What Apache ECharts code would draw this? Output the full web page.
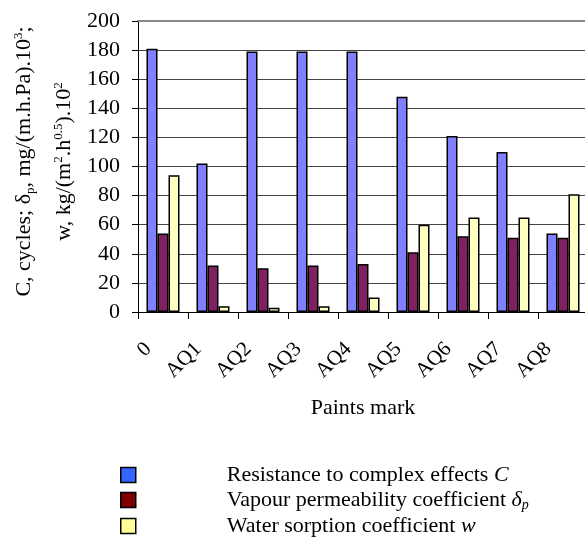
<!DOCTYPE html>
<html>
<head>
<meta charset="utf-8">
<script src="https://cdn.jsdelivr.net/npm/echarts@6/dist/echarts.min.js"></script>
<style>html,body{margin:0;padding:0;background:#fff}#c{width:585px;height:537px}</style>
</head>
<body>
<div id="c"></div>
<script>
var categories = ['0', 'AQ1', 'AQ2', 'AQ3', 'AQ4', 'AQ5', 'AQ6', 'AQ7', 'AQ8'];
var resistanceC = [181, 102, 179, 179, 179, 148, 121, 110, 54];
var vapourDelta = [54, 32, 30, 32, 33, 41, 52, 51, 51];
var sorptionW = [94, 4, 3, 4, 10, 60, 65, 65, 81];
var yTicks = [0, 20, 40, 60, 80, 100, 120, 140, 160, 180, 200];

var seriesNames = ['Resistance to complex effects C', 'Vapour permeability coefficient δp', 'Water sorption coefficient w'];
var FONT = '"Liberation Serif", "Times New Roman", serif';

var chart = echarts.init(document.getElementById('c'), null, {renderer: 'canvas'});
function bar(name, data, color) {
  return {
    name: name, type: 'bar', data: data, barWidth: 11, barGap: '0%',
    itemStyle: {color: color, borderColor: '#000', borderWidth: 1.5},
    animation: false
  };
}
chart.setOption({
  animation: false,
  textStyle: {fontFamily: FONT, color: '#000'},
  grid: {left: 138, top: 21, width: 450, height: 291, containLabel: false, outerBoundsMode: 'none'},
  xAxis: [{
    type: 'category', data: categories, position: 'bottom',
    axisLine: {lineStyle: {color: '#000', width: 1}},
    axisTick: {show: true, alignWithLabel: false, length: 7, lineStyle: {color: '#000'}},
    axisLabel: {rotate: 45, interval: 0, fontSize: 21, fontFamily: FONT, color: '#000', margin: 19, padding: [0, 21, 0, 0]},
    name: 'Paints mark', nameLocation: 'middle', nameGap: 85,
    nameTextStyle: {fontSize: 22, fontFamily: FONT, color: '#000'}
  }, {
    type: 'category', data: categories, position: 'top',
    axisLine: {lineStyle: {color: '#888', width: 2}},
    axisTick: {show: false}, axisLabel: {show: false}
  }],
  yAxis: {
    type: 'value', min: yTicks[0], max: yTicks[yTicks.length - 1], interval: 20,
    axisLine: {show: true, lineStyle: {color: '#000', width: 1}},
    axisTick: {show: true, length: 6, lineStyle: {color: '#000'}},
    axisLabel: {fontSize: 22, fontFamily: FONT, color: '#000', margin: 18},
    splitLine: {show: true, lineStyle: {color: '#444', width: 1}},
    name: '{n|C, cycles; δ}{sub|p}{n|, mg/(m.h.Pa).10}{sup|3}{n|;}\n{n|w, kg/(m}{sup|2}{n|.h}{sup|0.5}{n|).10}{sup|2}',
    nameLocation: 'middle', nameGap: 54, nameRotate: 90,
    nameTextStyle: {
      fontFamily: FONT, color: '#000', fontSize: 22, padding: [0, 0, 0, 10],
      rich: {
        n: {fontSize: 22, lineHeight: 40, fontFamily: FONT, color: '#000'},
        sup: {fontSize: 13, lineHeight: 13, verticalAlign: 'top', padding: [8, 0, 0, 0], fontFamily: FONT, color: '#000'},
        sub: {fontSize: 13, lineHeight: 13, verticalAlign: 'bottom', padding: [0, 0, 7, 0], fontFamily: FONT, color: '#000'}
      }
    }
  },
  legend: {
    orient: 'vertical', left: 120, top: 464, height: 90, padding: 0,
    itemWidth: 15, itemHeight: 15, itemGap: 3,
    data: [
      {name: seriesNames[0], itemStyle: {color: '#3366FF', borderColor: '#000', borderWidth: 1.5}},
      {name: seriesNames[1], itemStyle: {color: '#800000', borderColor: '#000', borderWidth: 1.5}},
      {name: seriesNames[2], itemStyle: {color: '#FFFF99', borderColor: '#000', borderWidth: 1.5}}
    ],
    icon: 'rect',
    formatter: function (name) {
      if (name === seriesNames[0]) return '{g|}{t|Resistance to complex effects }{i|C}';
      if (name === seriesNames[1]) return '{g|}{t|Vapour permeability coefficient }{i|δ}{is|p}';
      return '{g|}{t|Water sorption coefficient }{i|w}';
    },
    textStyle: {
      fontFamily: FONT, fontSize: 22, color: '#000',
      rich: {
        g: {width: 86, height: 10},
        t: {fontFamily: FONT, fontSize: 22, lineHeight: 24, color: '#000'},
        i: {fontFamily: FONT, fontSize: 22, lineHeight: 24, fontStyle: 'italic', color: '#000'},
        is: {fontFamily: FONT, fontSize: 14, lineHeight: 12, verticalAlign: 'bottom', fontStyle: 'italic', color: '#000'}
      }
    }
  },
  series: [
    bar(seriesNames[0], resistanceC, '#8080FF'),
    bar(seriesNames[1], vapourDelta, '#802060'),
    bar(seriesNames[2], sorptionW, '#FFFFC0')
  ]
});
</script>
</body>
</html>
